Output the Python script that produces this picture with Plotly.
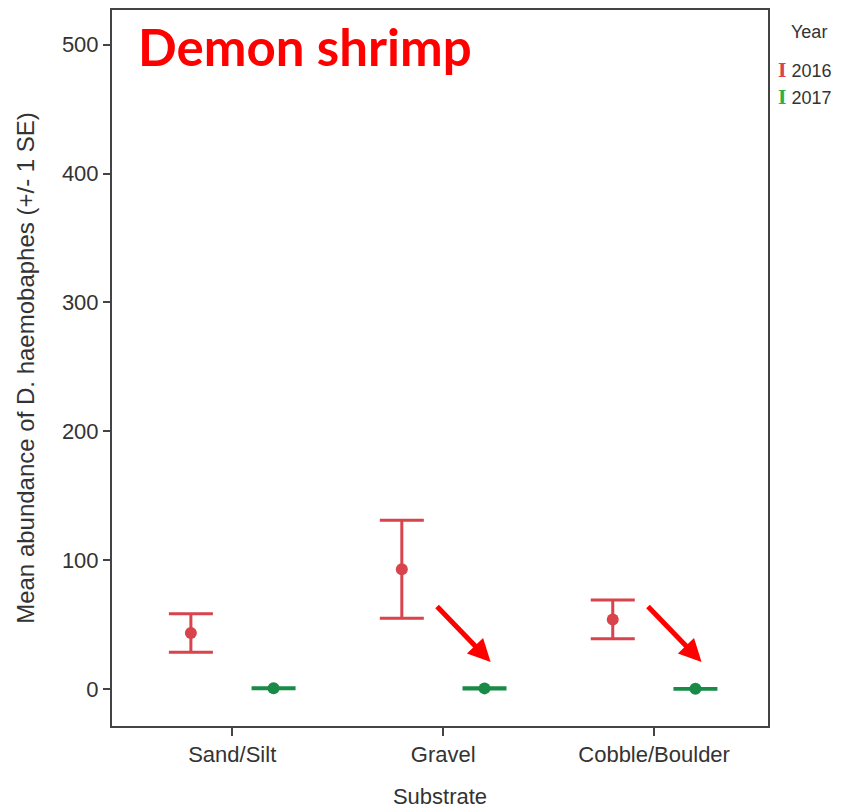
import plotly.graph_objects as go

substrates = ["Sand/Silt", "Gravel", "Cobble/Boulder"]
mean_2016 = [43.5, 93.0, 54.0]
se_2016 = [15.0, 38.0, 15.0]
mean_2017 = [0.6, 0.5, 0.2]
se_2017 = [0.4, 0.4, 0.3]
y_ticks = [0, 100, 200, 300, 400, 500]

red = "#d8434c"
green = "#198a47"
font = "Liberation Sans, Arial, sans-serif"

fig = go.Figure()
fig.add_trace(go.Scatter(
    x=substrates, y=mean_2016, name="2016", mode="markers",
    marker=dict(color=red, size=12),
    error_y=dict(type="data", array=se_2016, color=red, thickness=3, width=22),
    showlegend=False,
))
fig.add_trace(go.Scatter(
    x=substrates, y=mean_2017, name="2017", mode="markers",
    marker=dict(color=green, size=12),
    error_y=dict(type="data", array=se_2017, color=green, thickness=3, width=22),
    showlegend=False,
))

fig.update_layout(
    width=848, height=809,
    margin=dict(l=112, r=80, t=10, b=83),
    plot_bgcolor="white", paper_bgcolor="white",
    scattermode="group", scattergap=0.216,
    font=dict(family=font, size=22, color="#333"),
)
fig.update_xaxes(
    type="category", range=[-0.57, 2.54],
    showline=True, linecolor="#444", linewidth=2, mirror=True,
    ticks="outside", ticklen=8, tickwidth=2, tickcolor="#444",
    showgrid=False, zeroline=False, automargin=False,
    title=dict(text="Substrate", font=dict(size=22), standoff=22),
)
fig.update_yaxes(
    range=[-28.7, 527], tickvals=y_ticks,
    showline=True, linecolor="#444", linewidth=2, mirror=True,
    ticks="outside", ticklen=7, tickwidth=2, tickcolor="#444",
    showgrid=False, zeroline=False, automargin=False,
    title=dict(text="Mean abundance of D. haemobaphes (+/- 1 SE)", font=dict(size=24), standoff=20),
)

fig.add_annotation(
    xref="paper", yref="paper", x=0.036, y=0.995, xanchor="left", yanchor="top",
    text="<b>Demon shrimp</b>", showarrow=False,
    font=dict(family="Lato, sans-serif", size=51, color="#ff0000"),
)
fig.add_annotation(
    xref="paper", yref="paper", x=1.032, y=0.969, xanchor="left", yanchor="middle",
    text="Year", showarrow=False, font=dict(size=18, color="#333"),
)
fig.add_annotation(
    xref="paper", yref="paper", x=1.012, y=0.916, xanchor="left", yanchor="middle",
    text="<span style='color:#d8434c;font-family:DejaVu Serif'><b>I</b></span> 2016", showarrow=False,
    font=dict(size=18, color="#333"),
)
fig.add_annotation(
    xref="paper", yref="paper", x=1.012, y=0.878, xanchor="left", yanchor="middle",
    text="<span style='color:#2bb04a;font-family:DejaVu Serif'><b>I</b></span> 2017", showarrow=False,
    font=dict(size=18, color="#333"),
)

for cat_idx in [1, 2]:
    fig.add_annotation(
        x=cat_idx + 0.225, y=21, xref="x", yref="y",
        ax=-55, ay=-57, showarrow=True, text="",
        arrowhead=2, arrowsize=0.9, arrowwidth=5, arrowcolor="#ff0000",
    )

fig.write_html("out.html")
